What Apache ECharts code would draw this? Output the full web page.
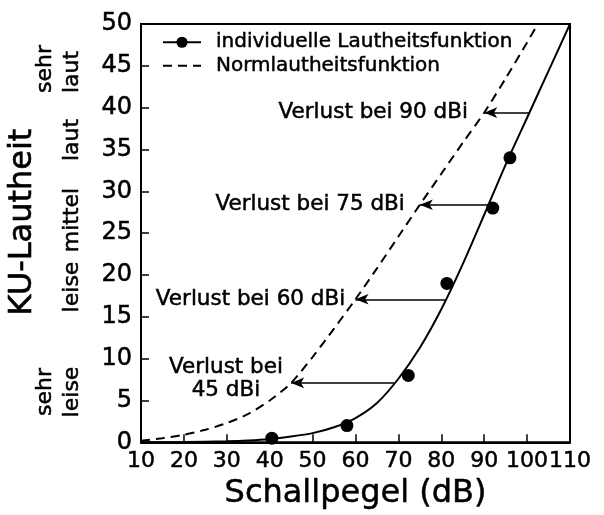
<!DOCTYPE html>
<html><head><meta charset="utf-8">
<script src="https://cdn.jsdelivr.net/npm/echarts@6/dist/echarts.min.js"></script>
<style>html,body{margin:0;padding:0;background:#fff}#c{width:604px;height:515px}</style>
</head><body><div id="c"></div>
<script>
// ---- data ----
const xAxisMin = 10, xAxisMax = 110, xStep = 10;
const yAxisMin = 0, yAxisMax = 50, yStep = 5;

// individuelle Lautheitsfunktion (fitted curve)
const fitX = [10, 20, 30, 35, 40, 45, 50, 55, 60, 65, 70, 75, 80, 85, 90, 95, 100, 105, 110];
const fitY = [0, 0.03, 0.12, 0.22, 0.4, 0.7, 1.1, 1.8, 2.9, 4.7, 7.6, 11.3, 15.9, 21.3, 27.2, 33.2, 38.8, 44.4, 50];

// measured points of the individual function
const measX = [40.5, 58, 72.3, 81.3, 92, 96];
const measY = [0.5, 2.0, 8.0, 19.0, 28.0, 34.0];

// Normlautheitsfunktion (dashed)
const normX = [10, 15, 20, 25, 30, 35, 40, 45, 50, 55, 60, 65, 70, 75, 80, 85, 90, 95, 100, 102.5];
const normY = [0.2, 0.5, 0.9, 1.5, 2.3, 3.4, 5.0, 7.1, 10.2, 13.6, 17.1, 20.8, 24.6, 28.4, 32.1, 35.8, 39.4, 43.5, 47.8, 50];

// loss arrows (from individual curve to norm curve)
const lossLabels = ['Verlust bei\n45 dBi', 'Verlust bei 60 dBi', 'Verlust bei 75 dBi', 'Verlust bei 90 dBi'];
const arrowY = [7.1, 17.1, 28.4, 39.4];
const arrowFromX = [69, 81, 91, 100.7];
const arrowToX = [45, 60, 75, 90];
const labelX = [29.8, 57.6, 71.5, 86.2];
const labelY = [7.6, 17.1, 28.4, 39.4];

const seriesNames = ['individuelle Lautheitsfunktion', 'Normlautheitsfunktion'];
const xName = 'Schallpegel (dB)';
const yName = 'KU-Lautheit';
const categoryWords = ['sehr', 'laut', 'laut', 'mittel', 'leise', 'sehr', 'leise'];

// ---- chart ----
const FONT = 'DejaVu Sans';
const chart = echarts.init(document.getElementById('c'), null, {renderer: 'canvas'});

const zip = (a, b) => a.map((v, i) => [v, b[i]]);
const heavy = {textBorderColor: '#000', textBorderWidth: 0.5};

const arrowData = arrowY.map((y, i) => [
  {coord: [arrowFromX[i], y], symbol: 'none'},
  {coord: [arrowToX[i], y], symbol: 'arrow', symbolSize: [8, 13]}
]);

const annoData = labelX.map((x, i) => ({
  value: [x, labelY[i]],
  label: i === 0
    ? {position: 'inside', align: 'center', lineHeight: 23}
    : {position: 'left', distance: 0}
}));

// category word positions (pixel layout of the left side labels)
const catPos = [[45, 69], [72, 72], [72, 140], [72, 220], [72, 287], [45, 392], [72, 392]];

const option = {
  backgroundColor: '#fff',
  animation: false,
  textStyle: {fontFamily: FONT, color: '#000'},
  grid: {left: 141, right: 34, top: 24, bottom: 72, show: true, borderColor: '#000', borderWidth: 2, backgroundColor: 'transparent'},
  legend: {
    data: [
      {name: seriesNames[0]},
      {name: seriesNames[1], itemStyle: {color: 'rgba(0,0,0,0)', borderWidth: 0, opacity: 0}}
    ],
    orient: 'vertical',
    left: 157, top: 27,
    itemWidth: 38, itemHeight: 14, itemGap: 3,
    textStyle: Object.assign({fontFamily: FONT, fontSize: 20, color: '#000', padding: [0, 0, 0, 10]}, heavy),
    inactiveColor: '#000'
  },
  xAxis: {
    type: 'value', min: xAxisMin, max: xAxisMax, interval: xStep,
    name: xName, nameLocation: 'middle', nameGap: 35,
    nameTextStyle: Object.assign({fontFamily: FONT, fontSize: 32, color: '#000'}, heavy),
    axisLine: {show: true, onZero: false, lineStyle: {color: '#000', width: 2}},
    axisTick: {show: true, inside: true, length: 8, lineStyle: {color: '#000', width: 1.5}},
    axisLabel: Object.assign({fontFamily: FONT, fontSize: 22, color: '#000', margin: 8, showMinLabel: true, showMaxLabel: true, hideOverlap: false}, heavy),
    splitLine: {show: false}
  },
  yAxis: {
    type: 'value', min: yAxisMin, max: yAxisMax, interval: yStep,
    axisLine: {show: true, onZero: false, lineStyle: {color: '#000', width: 2}},
    axisTick: {show: true, inside: true, length: 8, lineStyle: {color: '#000', width: 1.5}},
    axisLabel: Object.assign({fontFamily: FONT, fontSize: 24, color: '#000', margin: 9, showMinLabel: true, showMaxLabel: true}, heavy),
    splitLine: {show: false}
  },
  series: [
    {
      name: seriesNames[0], type: 'line', data: zip(fitX, fitY), smooth: 0.25,
      symbol: 'circle', symbolSize: 12, showSymbol: false,
      lineStyle: {color: '#000', width: 2}, itemStyle: {color: '#000', opacity: 1},
      z: 3
    },
    {
      name: seriesNames[1], type: 'line', data: zip(normX, normY), smooth: 0.25,
      symbol: 'none',
      lineStyle: {color: '#000', width: 2, type: [9, 6]}, itemStyle: {color: '#000'},
      markLine: {
        silent: true, symbol: ['none', 'arrow'], symbolSize: [1, 12],
        lineStyle: {color: '#000', width: 1.5, type: 'solid', opacity: 1},
        itemStyle: {color: '#000', opacity: 1},
        label: {show: false},
        data: arrowData
      },
      z: 3
    },
    {
      name: 'Messpunkte', type: 'scatter', data: zip(measX, measY),
      symbol: 'circle', symbolSize: 13, itemStyle: {color: '#000', opacity: 1}, z: 4
    },
    {
      name: 'Beschriftung', type: 'scatter', data: annoData, symbolSize: 0, silent: true,
      itemStyle: {color: '#000', opacity: 1},
      label: Object.assign({
        show: true, color: '#000', opacity: 1, fontFamily: FONT, fontSize: 21.5,
        formatter: p => lossLabels[p.dataIndex]
      }, heavy)
    }
  ],
  graphic: [
    {type: 'text', x: 23, y: 222, rotation: Math.PI / 2,
     style: {text: yName, font: '32px "DejaVu Sans"', fill: '#000', stroke: '#000', lineWidth: 0.6, align: 'center', verticalAlign: 'middle'}}
  ].concat(categoryWords.map((w, i) => ({
    type: 'text', x: catPos[i][0], y: catPos[i][1], rotation: Math.PI / 2,
    style: {text: w, font: '22px "DejaVu Sans"', fill: '#000', stroke: '#000', lineWidth: 0.5, align: 'center', verticalAlign: 'middle'}
  })))
};
chart.setOption(option);
</script>
</body></html>
